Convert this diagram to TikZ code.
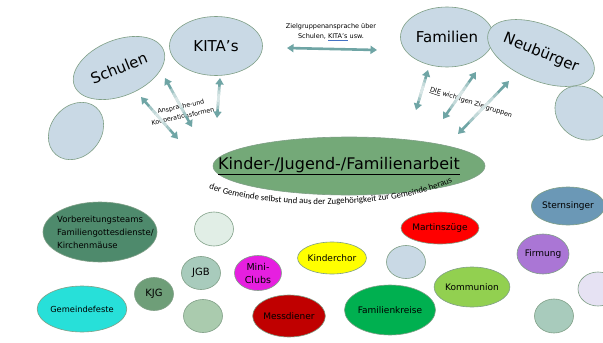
\documentclass[tikz,border=0pt]{standalone}
\usepackage{fontspec}
\setmainfont{DejaVu Sans}
\newfontfamily\calibrischrift{Carlito}
\usepackage{tikz}
\usetikzlibrary{shapes.geometric}
\usetikzlibrary{arrows.meta}
\usetikzlibrary{decorations.text}
\usetikzlibrary{calc}
\definecolor{blaugrau}{HTML}{C9D9E5}
\definecolor{randgruen}{HTML}{7F9F86}
\definecolor{mittelgruen}{HTML}{74A978}
\definecolor{pfeiltuerkis}{HTML}{6FA5A5}
\definecolor{dunkelgruen}{HTML}{4E8A6C}
\definecolor{hellmint}{HTML}{E1EEE6}
\definecolor{salbei}{HTML}{A8CBBC}
\definecolor{kjggruen}{HTML}{6E9E78}
\definecolor{tuerkis}{HTML}{27E0D9}
\definecolor{hellsalbei}{HTML}{AACBAE}
\definecolor{minipink}{HTML}{E61FE0}
\definecolor{messrot}{HTML}{C00000}
\definecolor{chorgelb}{HTML}{FFFF00}
\definecolor{martinrot}{HTML}{FF0000}
\definecolor{kreisgruen}{HTML}{00B050}
\definecolor{kommuniongruen}{HTML}{92D050}
\definecolor{sternblau}{HTML}{6B98B6}
\definecolor{firmlila}{HTML}{AA76D5}
\definecolor{lavendel}{HTML}{E6E2F3}
\definecolor{ulblau}{HTML}{4472C4}
\begin{document}
\begin{tikzpicture}[x=1pt,y=-1pt,>={Triangle[width=8pt,length=6.5pt]}]
% Stile
\tikzstyle blase=[ellipse,draw=randgruen,line width=0.6pt,inner sep=0pt]
\tikzstyle pfeil=[<->,draw=pfeiltuerkis,line width=2.6pt]
\tikzstyle blass=[white,opacity=0.36,line width=2.7pt]
\tikzstyle gross=[font=\fontsize{15}{17}\selectfont]
\tikzstyle mittel=[font=\fontsize{9}{13}\selectfont]
\tikzstyle winzig=[font=\fontsize{6.5}{10.5}\selectfont]
% Rahmen
\fill[white] (0,0) rectangle (603,343);
\useasboundingbox (0,0) rectangle (603,343);
% obere Blasen
\node[blase,fill=blaugrau,minimum width=96,minimum height=56,rotate=22,gross] (schulen) at (119,68) {Schulen};
\node[blase,fill=blaugrau,minimum width=93,minimum height=59,gross] (kitas) at (216,46) {KITA's};
\node[blase,fill=blaugrau,minimum width=62,minimum height=50,rotate=50] (leerlinks) at (76,131) {};
\node[blase,fill=blaugrau,minimum width=93,minimum height=60,gross] (familien) at (447,37) {Familien};
\node[blase,fill=blaugrau,minimum width=96,minimum height=56,rotate=-22,gross] (neubuerger) at (541,53) {Neubürger};
\node[blase,fill=blaugrau,minimum width=60,minimum height=50,rotate=-40] (leerrechts) at (583,113) {};
% Mitte
\node[blase,fill=mittelgruen,minimum width=272,minimum height=58] (mitte) at (349,166) {};
\node[font=\fontsize{16}{18}\selectfont,inner sep=0pt] (titel) at (339,166) {\underline{Kinder-/Jugend-/Familienarbeit}};
\path[decorate,decoration={text along path,text align=center,
  text={|\calibrischrift\fontsize{8.8}{10}\selectfont|der Gemeinde selbst und aus der Zugehörigkeit zur  Gemeinde heraus}}]
  (204,187) .. controls (262,211) and (398,211) .. (457,180);
% Texte an den Pfeilen
\node[winzig,align=center] (zieltext) at (331,32) {Zielgruppenansprache über\\Schulen, {\color{ulblau}\underline{\textcolor{black}{KITA's}}} usw.};
\node[winzig,align=center,rotate=12,font=\fontsize{6.3}{10}\selectfont] (ansprache) at (182,112) {Ansprache-und\\Kooperationsformen};
\node[winzig,rotate=-18] (wichtig) at (471,103) {\underline{DIE} wichtigen Zielgruppen};
% Pfeile
\coordinate (zs) at (287,48);
\coordinate (ze) at (377,50);
\coordinate (a1s) at (141,97);
\coordinate (a1e) at (178,139);
\coordinate (a2s) at (165,78);
\coordinate (a2e) at (192,127);
\coordinate (a3s) at (220,78);
\coordinate (a3e) at (217,118);
\coordinate (b1s) at (428,70);
\coordinate (b1e) at (416,110);
\coordinate (b2s) at (476,72);
\coordinate (b2e) at (443,119);
\coordinate (b3s) at (509,81);
\coordinate (b3e) at (458,134);
\draw[pfeil] (zs) -- (ze);
\foreach \von/\nach in {a1s/a1e,a2s/a2e,a3s/a3e,b1s/b1e,b2s/b2e,b3s/b3e}
{
  \draw[pfeil] (\von) -- (\nach);
  \foreach \a/\b in {0.22/0.78,0.31/0.69,0.40/0.60}
    \draw[blass] ($(\von)!\a!(\nach)$) -- ($(\von)!\b!(\nach)$);
}
% untere Blasen
\node[blase,fill=dunkelgruen,minimum width=114,minimum height=60] (vorbereitung) at (100,232) {};
\node[mittel,align=left,anchor=west,font=\fontsize{8.5}{13}\selectfont,inner sep=0pt] (vorbtext) at (57,232) {Vorbereitungsteams\\Familiengottesdienste/\\Kirchenmäuse};
\node[blase,fill=hellmint,minimum width=39,minimum height=34] (leer1) at (214,229) {};
\node[blase,fill=salbei,minimum width=39,minimum height=33,font=\fontsize{10}{12}\selectfont] (jgb) at (201,273) {JGB};
\node[blase,fill=minipink,minimum width=47,minimum height=35,align=center,font=\fontsize{9.5}{13}\selectfont] (miniclubs) at (258,273) {Mini-\\Clubs};
\node[blase,fill=kjggruen,minimum width=39,minimum height=33,font=\fontsize{10}{12}\selectfont] (kjg) at (154,294) {KJG};
\node[blase,fill=tuerkis,minimum width=76,minimum height=46,font=\fontsize{8.3}{10}\selectfont] (gemeindefeste) at (82,309) {Gemeindefeste};
\node[blase,fill=hellsalbei,minimum width=39,minimum height=33] (leer2) at (203,316) {};
\node[blase,fill=messrot,minimum width=66,minimum height=42,mittel] (messdiener) at (289,316) {Messdiener};
\node[blase,fill=chorgelb,minimum width=58,minimum height=32,mittel] (kinderchor) at (332,258) {Kinderchor};
\node[blase,fill=blaugrau,minimum width=39,minimum height=33] (leer3) at (406,262) {};
\node[blase,fill=martinrot,minimum width=70,minimum height=32,mittel] (martinszuege) at (440,228) {Martinszüge};
\node[blase,fill=kreisgruen,minimum width=76,minimum height=50,mittel] (familienkreise) at (390,310) {Familienkreise};
\node[blase,fill=kommuniongruen,minimum width=68,minimum height=40,mittel] (kommunion) at (472,287) {Kommunion};
\node[blase,fill=sternblau,minimum width=66,minimum height=38,mittel] (sternsinger) at (568,206) {Sternsinger};
\node[blase,fill=firmlila,minimum width=52,minimum height=40,mittel] (firmung) at (543,254) {Firmung};
\node[blase,fill=lavendel,minimum width=40,minimum height=34] (leer4) at (598,289) {};
\node[blase,fill=salbei,minimum width=39,minimum height=34] (leer5) at (554,316) {};
\end{tikzpicture}
\end{document}
